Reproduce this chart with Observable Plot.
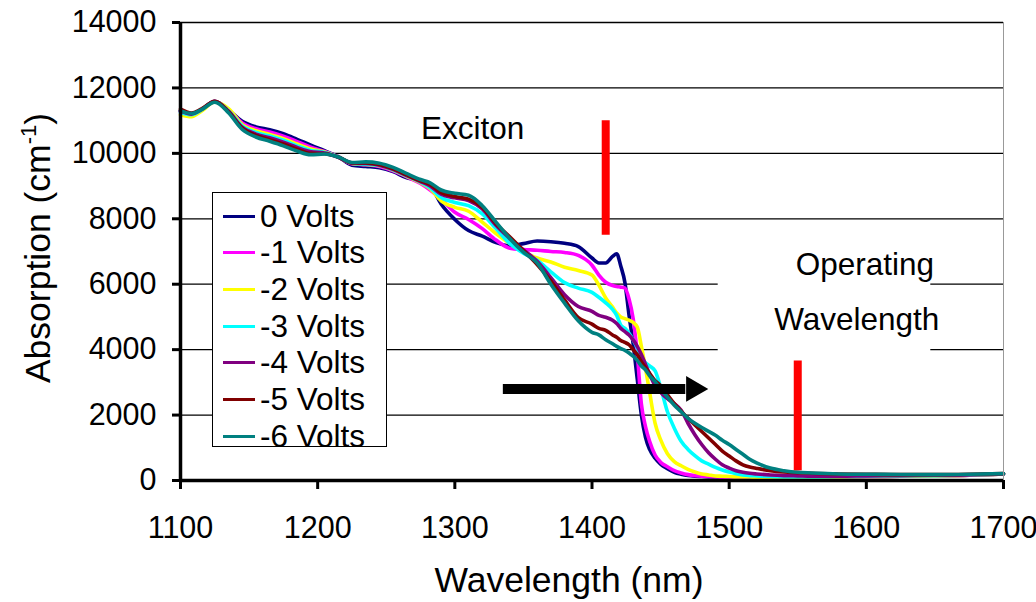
<!DOCTYPE html>
<html><head><meta charset="utf-8">
<script src="https://cdn.jsdelivr.net/npm/d3@7"></script>
<script src="https://cdn.jsdelivr.net/npm/@observablehq/plot@0.6"></script>
<style>
body{margin:0;background:#fff;}
#wrap{position:relative;width:1036px;height:602px;font-family:"Liberation Sans",Arial,sans-serif;}
#legend{position:absolute;left:212px;top:192px;width:175px;height:255px;border:1px solid #000;background:#fff;box-sizing:border-box;}
.row{position:absolute;left:0;height:36px;display:flex;align-items:center;font-size:31.5px;color:#000;white-space:nowrap;}
.sw{width:32px;height:3px;margin-left:10px;margin-right:5px;}
</style></head><body><div id="wrap"></div>
<script>
// ---- data ----
const series = ["0 Volts","-1 Volts","-2 Volts","-3 Volts","-4 Volts","-5 Volts","-6 Volts"];
const colors = ["#000080","#ff00ff","#ffff00","#00ffff","#800080","#800000","#008080"];
const wavelengths = [1100,1108,1115,1125,1135,1145,1155,1165,1175,1185,1195,1205,1215,1225,1235,1245,1255,1265,1275,1282,1290,1300,1310,1320,1330,1340,1350,1360,1370,1380,1390,1400,1405,1410,1415,1418,1421,1424,1427,1430,1433,1436,1439,1442,1446,1450,1455,1460,1465,1470,1475,1480,1485,1490,1495,1500,1505,1510,1515,1520,1530,1540,1550,1560,1580,1600,1625,1650,1675,1700];
const volts0 = [11300,11200,11330,11580,11320,10980,10810,10720,10600,10430,10250,10080,9900,9640,9600,9560,9440,9250,9170,9020,8450,7980,7640,7470,7270,7180,7240,7320,7300,7250,7150,6800,6650,6650,6850,6930,6550,6050,5050,4180,3100,2000,1320,950,680,500,360,250,190,150,130,120,110,100,100,100,100,100,100,100,100,100,100,100,110,120,130,140,160,200];
const volts1 = [11280,11190,11320,11580,11330,10930,10750,10650,10525,10360,10190,10060,9900,9680,9650,9600,9470,9280,9080,8880,8600,8200,7980,7700,7350,7100,7060,7040,7000,6970,6880,6580,6280,6060,5960,5930,5910,5880,5550,4950,3870,2340,1650,1200,780,560,420,300,230,180,150,130,120,110,100,100,100,100,100,100,100,100,100,100,110,120,130,140,160,200];
const volts2 = [11180,11120,11280,11570,11370,10880,10690,10580,10450,10285,10135,10040,9890,9690,9660,9620,9490,9300,9100,8920,8550,8350,8230,7900,7550,7250,6980,6800,6680,6520,6420,6280,5970,5580,5300,5120,5000,4950,4900,4830,4690,4100,3430,2700,1750,1250,820,580,450,340,260,200,170,140,130,120,110,110,105,100,100,100,100,100,110,120,130,140,160,200];
const volts3 = [11250,11180,11320,11580,11300,10840,10640,10530,10400,10230,10090,10030,9890,9700,9670,9630,9500,9310,9120,8950,8650,8500,8400,8150,7700,7250,6950,6730,6380,6050,5880,5750,5600,5430,5230,5050,4750,4650,4500,4300,4050,3750,3600,3500,3350,2850,2100,1600,1200,950,760,600,500,400,320,260,210,170,150,140,120,110,110,110,120,130,140,150,170,200];
const volts4 = [11300,11200,11330,11590,11290,10800,10590,10475,10340,10180,10050,10010,9880,9700,9690,9640,9510,9320,9140,9000,8750,8640,8560,8300,7800,7400,7050,6700,6200,5680,5320,5170,5050,4990,4900,4800,4650,4550,4450,4300,4100,3850,3550,3250,2900,2700,2500,2350,2150,1750,1400,1100,850,650,480,380,300,250,220,200,170,150,140,130,130,140,150,160,170,200];
const volts5 = [11350,11230,11350,11590,11270,10770,10550,10420,10285,10125,10000,9990,9890,9710,9710,9660,9530,9340,9160,9050,8800,8680,8600,8350,7850,7450,7030,6600,6100,5520,4980,4780,4650,4590,4450,4380,4280,4220,4150,4000,3850,3630,3450,3280,3050,2900,2620,2350,2120,1900,1700,1500,1300,1100,900,750,600,480,410,370,300,260,240,220,200,190,180,180,190,210];
const volts6 = [11300,11220,11330,11560,11240,10730,10500,10370,10230,10070,9960,9980,9890,9720,9740,9700,9570,9380,9200,9100,8880,8780,8720,8400,7900,7400,6980,6650,6000,5420,4880,4530,4450,4300,4180,4100,4030,3980,3900,3800,3670,3500,3380,3200,3020,2800,2550,2300,2100,1900,1750,1620,1500,1380,1230,1100,950,800,650,540,380,300,250,230,200,190,185,180,190,210];
const xTicks = [1100,1200,1300,1400,1500,1600,1700];
const yTicks = [0,2000,4000,6000,8000,10000,12000,14000];
const gridY = [2000,4000,6000,8000,10000,12000,14000];
const noteText = ["Exciton","Operating","Wavelength"];
const noteX = [1313,1599,1593];
const noteY = [10760,6600,4906];
const markerWl = [1410,1550];
const markerLo = [7500,300];
const markerHi = [11000,3650];
const arrowX = [1335,1468];
const arrowHeadX = 1474;
const arrowY = 2800;
const noteBox = {x1:1492,x2:1647,y1:3750,y2:7400};

// ---- build ----
const allValues = [volts0,volts1,volts2,volts3,volts4,volts5,volts6];
const rows = [];
series.forEach((s,i)=>wavelengths.forEach((w,j)=>rows.push({series:s,wl:w,abs:allValues[i][j]})));
const notes = noteText.map((t,i)=>({t,x:noteX[i],y:noteY[i]}));
const markers = markerWl.map((w,i)=>({w,lo:markerLo[i],hi:markerHi[i]}));

const chart = Plot.plot({
  width:1036,height:602,marginLeft:180,marginRight:33,marginTop:22,marginBottom:122,
  style:{fontFamily:"'Liberation Sans',Arial,sans-serif",background:"#fff",color:"#000",overflow:"visible"},
  x:{domain:[1100,1700]},
  y:{domain:[0,14000]},
  color:{domain:series,range:colors},
  marks:[
    Plot.ruleY(gridY,{stroke:"#000",strokeWidth:1.3}),
    Plot.rect([noteBox],{x1:"x1",x2:"x2",y1:"y1",y2:"y2",fill:"#fff"}),
    Plot.line(rows,{x:"wl",y:"abs",z:"series",stroke:"series",strokeWidth:3.6,curve:"monotone-x"}),
    Plot.ruleX(markers,{x:"w",y1:"lo",y2:"hi",stroke:"#ff0000",strokeWidth:8}),
    Plot.link([{a:arrowX[0],b:arrowX[1],y:arrowY}],{x1:"a",x2:"b",y1:"y",y2:"y",stroke:"#000",strokeWidth:10}),
    Plot.dot([{x:arrowHeadX,y:arrowY}],{x:"x",y:"y",symbol:"triangle",r:9.5,rotate:90,fill:"#000",stroke:null}),
    Plot.text(notes,{x:"x",y:"y",text:"t",fontSize:31.5,textAnchor:"middle",lineAnchor:"middle",fill:"#000"}),
    Plot.axisY({ticks:yTicks,tickSize:8,tickPadding:16,fontSize:30.5,strokeWidth:3,label:null,tickFormat:d3.format("d")}),
    Plot.axisX({ticks:xTicks,tickSize:9,tickPadding:27,fontSize:30.5,strokeWidth:3,label:null,tickFormat:d3.format("d")}),
    Plot.ruleX([1700],{stroke:"#999",strokeWidth:1}),
    Plot.ruleX([1100],{stroke:"#000",strokeWidth:3.5}),
    Plot.ruleY([0],{stroke:"#000",strokeWidth:3.5})
  ]
});
const wrap = document.getElementById("wrap");
wrap.appendChild(chart);
const svg = d3.select(chart);
svg.append("text").attr("x",569).attr("y",592).attr("text-anchor","middle")
  .attr("font-size",35.5).attr("fill","#000").text("Wavelength (nm)");
const yl = svg.append("text").attr("transform","translate(50,248) rotate(-90)")
  .attr("text-anchor","middle").attr("font-size",35.5).attr("fill","#000");
yl.append("tspan").text("Absorption (cm");
yl.append("tspan").attr("font-size",22).attr("dy",-14).text("-1");
yl.append("tspan").attr("dy",14).text(")");

// legend
const leg = document.createElement("div");
leg.id = "legend";
series.forEach((s,i)=>{
  const r = document.createElement("div");
  r.className = "row";
  r.style.top = (5 + i*36.7) + "px";
  const sw = document.createElement("span");
  sw.className = "sw"; sw.style.background = colors[i];
  const t = document.createElement("span"); t.textContent = s;
  r.appendChild(sw); r.appendChild(t);
  leg.appendChild(r);
});
wrap.appendChild(leg);
</script>
</body></html>
